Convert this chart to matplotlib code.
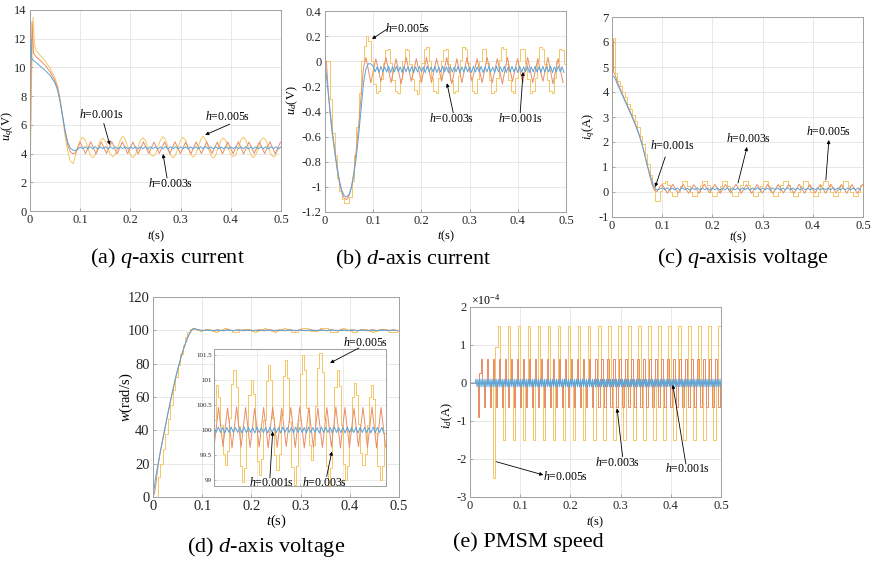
import numpy as np
import matplotlib.pyplot as plt
from matplotlib.ticker import FuncFormatter

plt.rcParams['font.family'] = ['Liberation Serif', 'DejaVu Serif']
plt.rcParams['mathtext.fontset'] = 'custom'
plt.rcParams['mathtext.rm'] = 'Liberation Serif'
plt.rcParams['mathtext.it'] = 'Liberation Serif:italic'
plt.rcParams['axes.unicode_minus'] = False

# colours for h = 0.001s, 0.003s, 0.005s
C1 = '#58a5da'
C3 = '#e88d68'
C5 = '#f4c765'
LW = 0.7

# ---------------- (a) q-axis current : u_q ----------------
a_t1 = [0.0, 0.0015, 0.003, 0.006, 0.012, 0.02, 0.03, 0.04, 0.05, 0.055, 0.06, 0.065, 0.07, 0.075, 0.08, 0.085, 0.09, 0.095]
a_v1 = [2.6, 12.0, 10.7, 10.5, 10.35, 10.1, 9.8, 9.45, 8.9, 8.4, 7.6, 6.6, 5.6, 4.8, 4.4, 4.25, 4.2, 4.3]
a_s1 = [4.45, 4.34, 4.48, 4.33, 4.47, 4.34, 4.48, 4.32, 4.47, 4.34,
        4.48, 4.33, 4.47, 4.34, 4.48, 4.33, 4.47, 4.34, 4.48, 4.32,
        4.47, 4.34, 4.48, 4.33, 4.47, 4.34, 4.48, 4.33, 4.47, 4.34,
        4.48, 4.32, 4.47, 4.34, 4.48, 4.33, 4.47, 4.34, 4.48, 4.33,
        4.47, 4.34, 4.48, 4.32, 4.47, 4.34, 4.48, 4.33, 4.47, 4.34,
        4.48, 4.33, 4.47, 4.34, 4.48, 4.32, 4.47, 4.34, 4.48, 4.33,
        4.47, 4.34, 4.48, 4.33, 4.47, 4.34, 4.48, 4.32, 4.47, 4.34,
        4.48, 4.33, 4.47, 4.34, 4.48, 4.33, 4.47, 4.34, 4.48, 4.32, 4.46]
a_t3 = [0.0, 0.002, 0.004, 0.007, 0.012, 0.02, 0.03, 0.04, 0.05, 0.055, 0.06, 0.065, 0.07, 0.075, 0.08, 0.085, 0.09]
a_v3 = [1.8, 9.0, 13.2, 11.0, 10.75, 10.5, 10.15, 9.7, 9.05, 8.55, 7.7, 6.6, 5.5, 4.6, 4.15, 4.0, 4.02]
a_s3 = [4.80, 4.00, 4.82, 3.98, 4.80, 4.01, 4.83, 3.99, 4.81, 4.00,
        4.80, 3.98, 4.82, 4.00, 4.80, 4.01, 4.81, 3.99, 4.82, 4.00,
        4.80, 3.98, 4.81, 4.00, 4.82, 4.01, 4.80, 3.99, 4.81, 4.00,
        4.82, 3.98, 4.80, 4.01, 4.81, 4.00, 4.82, 3.99, 4.80]
a_t5 = [0.0, 0.003, 0.006, 0.009, 0.013, 0.02, 0.03, 0.04, 0.05, 0.055, 0.06, 0.065, 0.07, 0.075, 0.08, 0.086, 0.095]
a_v5 = [1.5, 9.0, 13.5, 11.5, 11.15, 10.85, 10.45, 9.95, 9.25, 8.7, 7.8, 6.5, 5.2, 4.2, 3.5, 3.3, 4.4]
a_s5 = [4.93, 5.14, 4.93, 4.42, 3.91, 3.70, 3.91, 4.42, 4.90, 5.08,
        4.88, 4.40, 3.95, 3.78, 3.95, 4.45, 4.97, 5.20, 4.98, 4.44,
        3.92, 3.72, 3.92, 4.43, 4.92, 5.10, 4.91, 4.42, 3.94, 3.80,
        3.96, 4.46, 4.96, 5.18, 4.96, 4.43, 3.90, 3.70, 3.90, 4.42,
        4.92, 5.12, 4.92, 4.44, 3.95, 3.75, 3.95, 4.45, 4.97, 5.20,
        4.97, 4.43, 3.89, 3.68, 3.89, 4.42, 4.90, 5.08, 4.89, 4.41,
        3.93, 3.78, 3.94, 4.43, 4.93, 5.15, 4.93, 4.42, 3.92, 3.72,
        3.93, 4.44, 4.95, 5.10, 4.94, 4.43, 3.93, 3.76, 3.93, 4.44]

# ---------------- (b) d-axis current : u_d ----------------
b_t1 = [0.0, 0.003, 0.008, 0.015, 0.02, 0.025, 0.03, 0.035, 0.04, 0.045, 0.05, 0.055, 0.06, 0.065, 0.07, 0.075, 0.08, 0.085, 0.09, 0.095]
b_v1 = [0.0, -0.12, -0.3, -0.55, -0.7, -0.84, -0.95, -1.03, -1.07, -1.08, -1.06, -1.0, -0.9, -0.76, -0.58, -0.38, -0.17, -0.06, -0.02, -0.02]
b_s1 = [-0.04, -0.085, -0.045, -0.09, -0.04, -0.085, -0.045, -0.085, -0.04, -0.09,
        -0.045, -0.085, -0.04, -0.085, -0.045, -0.09, -0.04, -0.085, -0.045, -0.085,
        -0.04, -0.09, -0.045, -0.085, -0.04, -0.085, -0.045, -0.09, -0.04, -0.085,
        -0.045, -0.085, -0.04, -0.09, -0.045, -0.085, -0.04, -0.085, -0.045, -0.09,
        -0.04, -0.085, -0.045, -0.085, -0.04, -0.09, -0.045, -0.085, -0.04, -0.085,
        -0.045, -0.09, -0.04, -0.085, -0.045, -0.085, -0.04, -0.09, -0.045, -0.085,
        -0.04, -0.085, -0.045, -0.09, -0.04, -0.085, -0.045, -0.085, -0.04, -0.09,
        -0.045, -0.085, -0.04, -0.085, -0.045, -0.09, -0.04, -0.085, -0.045, -0.085,
        -0.04, -0.09, -0.045, -0.085, -0.04, -0.085, -0.045, -0.09, -0.04, -0.085,
        -0.045, -0.085, -0.04, -0.09, -0.045, -0.085, -0.04, -0.085, -0.045, -0.09]
b_t3 = [0.0, 0.003, 0.006, 0.01, 0.015, 0.02, 0.025, 0.03, 0.035, 0.04, 0.045, 0.05, 0.055, 0.06, 0.065, 0.07, 0.075, 0.08, 0.085]
b_v3 = [0.0, 0.0, -0.2, -0.4, -0.58, -0.72, -0.86, -0.97, -1.05, -1.09, -1.1, -1.07, -1.0, -0.88, -0.7, -0.5, -0.27, -0.05, 0.03]
b_s3 = [-0.17, 0.02, -0.16, 0.03, -0.17, 0.02, -0.18, 0.03, -0.16, 0.02,
        -0.17, 0.03, -0.17, 0.02, -0.16, 0.03, -0.18, 0.02, -0.17, 0.03,
        -0.16, 0.02, -0.17, 0.03, -0.17, 0.02, -0.18, 0.03, -0.16, 0.02,
        -0.17, 0.03, -0.17, 0.02, -0.16, 0.03, -0.18, 0.02, -0.17]
# h=0.005s is a zero-order hold, one value per sample
b_k5 = [0.0, 0.0, -0.3, -0.57, -0.75, -0.93, -1.03, -1.1, -1.13, -1.13,
        -1.08, -0.95, -0.75, -0.52, -0.25, 0.0, 0.12, 0.2, 0.16, 0.0,
        -0.18, -0.25,
        -0.24, -0.14, -0.01, 0.09, 0.10, -0.01, -0.15, -0.24,
        -0.25, -0.14, 0.00, 0.10, 0.09, -0.02, -0.14, -0.23,
        -0.26, -0.15, -0.01, 0.10, 0.11, 0.00, -0.13, -0.24,
        -0.25, -0.13, 0.00, 0.09, 0.10, -0.02, -0.15, -0.25,
        -0.24, -0.12, 0.01, 0.11, 0.10, -0.01, -0.14, -0.24,
        -0.25, -0.14, 0.00, 0.10, 0.10, -0.01, -0.15, -0.25,
        -0.24, -0.13, 0.01, 0.11, 0.10, -0.02, -0.15, -0.24,
        -0.25, -0.13, 0.00, 0.10, 0.10, -0.01, -0.14, -0.25,
        -0.24, -0.13, 0.01, 0.11, 0.10, -0.02, -0.15, -0.24,
        -0.25, -0.13, 0.00, 0.10, 0.09, -0.02]

# ---------------- (c) q-axis voltage : i_q ----------------
c_t1 = [0.0, 0.0, 0.001, 0.001, 0.005, 0.01, 0.02, 0.03, 0.04, 0.05, 0.055, 0.06, 0.065, 0.07, 0.075, 0.08, 0.085, 0.09, 0.095]
c_v1 = [0.0, 6.05, 6.05, 4.65, 4.6, 4.35, 3.9, 3.45, 3.0, 2.5, 2.22, 1.9, 1.5, 1.1, 0.75, 0.42, 0.15, 0.08, 0.12]
c_s1 = [0.16, 0.09, 0.17, 0.08, 0.16, 0.09, 0.16, 0.08, 0.17, 0.09,
        0.16, 0.08, 0.16, 0.09, 0.17, 0.08, 0.16, 0.09, 0.16, 0.08,
        0.17, 0.09, 0.16, 0.08, 0.16, 0.09, 0.17, 0.08, 0.16, 0.09,
        0.16, 0.08, 0.17, 0.09, 0.16, 0.08, 0.16, 0.09, 0.17, 0.08,
        0.16, 0.09, 0.16, 0.08, 0.17, 0.09, 0.16, 0.08, 0.16, 0.09,
        0.17, 0.08, 0.16, 0.09, 0.16, 0.08, 0.17, 0.09, 0.16, 0.08,
        0.16, 0.09, 0.17, 0.08, 0.16, 0.09, 0.16, 0.08, 0.17, 0.09,
        0.16, 0.08, 0.16, 0.09, 0.17, 0.08, 0.16, 0.09, 0.16, 0.08]
c_t3 = [0.0, 0.0, 0.003, 0.003, 0.006, 0.01, 0.02, 0.03, 0.04, 0.05, 0.055, 0.06, 0.065, 0.07, 0.075, 0.08, 0.085, 0.09, 0.095]
c_v3 = [0.0, 6.1, 6.1, 4.8, 4.7, 4.45, 3.95, 3.5, 3.05, 2.55, 2.25, 1.9, 1.5, 1.08, 0.65, 0.28, 0.05, 0.02, 0.2]
c_s3 = [0.30, -0.05, 0.31, -0.04, 0.30, -0.05, 0.29, -0.05, 0.31, -0.04,
        0.30, -0.05, 0.30, -0.04, 0.31, -0.05, 0.29, -0.05, 0.30, -0.04,
        0.31, -0.05, 0.30, -0.04, 0.30, -0.05, 0.31, -0.05, 0.29, -0.04,
        0.30, -0.05, 0.31, -0.04, 0.30, -0.05, 0.30, -0.05, 0.31]
c_k5 = [6.15, 4.75, 4.45, 4.25, 4.0, 3.78, 3.52, 3.3, 3.08, 2.82,
        2.58, 2.25, 1.92, 1.52, 1.1, 0.68, 0.22, -0.38, -0.35, 0.05,
        0.35, 0.45,
        0.26, 0.00, -0.17, -0.18, 0.01, 0.25, 0.43, 0.44,
        0.25, 0.01, -0.16, -0.17, 0.00, 0.26, 0.44, 0.43,
        0.26, 0.00, -0.18, -0.17, 0.01, 0.25, 0.42, 0.44,
        0.25, 0.00, -0.17, -0.18, 0.00, 0.26, 0.43, 0.43,
        0.26, 0.01, -0.16, -0.17, 0.01, 0.25, 0.44, 0.44,
        0.25, 0.00, -0.17, -0.18, 0.00, 0.26, 0.43, 0.42,
        0.26, 0.01, -0.17, -0.17, 0.01, 0.25, 0.44, 0.43,
        0.25, 0.00, -0.18, -0.17, 0.00, 0.26, 0.43, 0.44,
        0.26, 0.00, -0.17, -0.18, 0.01, 0.25, 0.43, 0.43,
        0.25, 0.00, -0.17, -0.17, 0.00, 0.26]

# ---------------- (d) speed : w ----------------
d_t1 = [0.0, 0.005, 0.01, 0.015, 0.02, 0.025, 0.03, 0.035, 0.04, 0.045, 0.05, 0.055, 0.06, 0.065, 0.07, 0.075, 0.08, 0.085, 0.09, 0.095]
d_v1 = [0.0, 11, 19.5, 27.5, 35, 42.5, 50, 57, 64, 70.5, 76.5, 82, 87, 91.5, 95.5, 98.6, 100.6, 100.9, 100.5, 100.15]
d_s1 = [100.05, 99.95, 100.06, 99.95, 100.05, 99.94, 100.05, 99.95, 100.06, 99.95,
        100.05, 99.95, 100.05, 99.94, 100.06, 99.95, 100.05, 99.95, 100.05, 99.94,
        100.06, 99.95, 100.05, 99.95, 100.05, 99.94, 100.06, 99.95, 100.05, 99.95,
        100.05, 99.94, 100.06, 99.95, 100.05, 99.95, 100.05, 99.94, 100.06, 99.95,
        100.05, 99.95, 100.05, 99.94, 100.06, 99.95, 100.05, 99.95, 100.05, 99.94,
        100.06, 99.95, 100.05, 99.95, 100.05, 99.94, 100.06, 99.95, 100.05, 99.95,
        100.05, 99.94, 100.06, 99.95, 100.05, 99.95, 100.05, 99.94, 100.06, 99.95,
        100.05, 99.95, 100.05, 99.94, 100.06, 99.95, 100.05, 99.95, 100.05, 99.94]
d_t3 = [0.0, 0.003, 0.006, 0.01, 0.015, 0.02, 0.025, 0.03, 0.035, 0.04, 0.045, 0.05, 0.055, 0.06, 0.065, 0.07, 0.075, 0.08, 0.085, 0.09]
d_v3 = [0.0, 2, 8, 18, 27, 34.5, 42, 49.5, 56.5, 63.5, 70, 76, 81.5, 86.7, 91.2, 95.2, 98.5, 100.7, 101.0, 100.4]
d_s3 = [99.65, 100.45, 99.67, 100.44, 99.64, 100.46, 99.66, 100.45, 99.65, 100.43,
        99.66, 100.45, 99.64, 100.46, 99.65, 100.44, 99.67, 100.45, 99.65, 100.46,
        99.64, 100.45, 99.66, 100.44, 99.65, 100.45, 99.66, 100.46, 99.64, 100.45,
        99.65, 100.44, 99.67, 100.45, 99.65, 100.46, 99.64, 100.45, 99.66]
d_k5 = [0.0, 0.0, 12, 20, 29, 38, 47, 55, 64, 72,
        79, 86, 91.5, 96, 99, 100.7, 101.3, 101.0, 100.3, 99.8,
        100.2,
        100.9, 100.67, 100.1, 99.53, 99.3, 99.58, 100.25, 100.92,
        101.2, 100.87, 100.08, 99.28, 98.95, 99.25, 99.98, 100.7,
        101.0, 100.72, 100.05, 99.38, 99.1, 99.42, 100.2, 100.98,
        101.3, 101.0, 100.25, 99.5, 99.2, 99.52, 100.3, 101.08,
        101.4, 101.04, 100.15, 99.26, 98.9, 99.28, 100.2, 101.12,
        101.5, 101.2, 100.45, 99.7, 99.4, 99.71, 100.48, 101.24,
        101.55, 101.17, 100.23, 99.28, 98.9, 99.23, 100.05, 100.87,
        101.2, 100.88, 100.1, 99.32, 99.0, 99.28, 99.98, 100.67,
        100.95, 100.71, 100.13, 99.54, 99.3, 99.53, 100.1, 100.67,
        100.9, 100.62, 99.95, 99.28, 99.0, 99.28, 99.95]

# ---------------- (e) i_d (x 1e-4) ----------------
e_t1 = [0.0, 0.01]
e_v1 = [0.0, 0.0]
e_s1 = [
    0.1, -0.1, 0.1, -0.1, 0.1, -0.1, 0.1, -0.1, 0.1, -0.1, 0.1, -0.1, 0.1, -0.1, 0.1, -0.1, 0.1, -0.1, 0.1, -0.1,
    0.1, -0.1, 0.1, -0.1, 0.1, -0.1, 0.1, -0.1, 0.1, -0.1, 0.1, -0.1, 0.1, -0.1, 0.1, -0.1, 0.1, -0.1, 0.1, -0.1,
    0.1, -0.1, 0.1, -0.1, 0.1, -0.1, 0.1, -0.1, 0.1, -0.1, 0.1, -0.1, 0.1, -0.1, 0.1, -0.1, 0.1, -0.1, 0.1, -0.1,
    0.1, -0.1, 0.1, -0.1, 0.1, -0.1, 0.1, -0.1, 0.1, -0.1, 0.1, -0.1, 0.1, -0.1, 0.1, -0.1, 0.1, -0.1, 0.1, -0.1,
    0.1, -0.1, 0.1, -0.1, 0.1, -0.1, 0.1, -0.1, 0.1, -0.1, 0.1, -0.1, 0.1, -0.1, 0.1, -0.1, 0.1, -0.1, 0.1, -0.1,
    0.1, -0.1, 0.1, -0.1, 0.1, -0.1, 0.1, -0.1, 0.1, -0.1, 0.1, -0.1, 0.1, -0.1, 0.1, -0.1, 0.1, -0.1, 0.1, -0.1,
    0.1, -0.1, 0.1, -0.1, 0.1, -0.1, 0.1, -0.1, 0.1, -0.1, 0.1, -0.1, 0.1, -0.1, 0.1, -0.1, 0.1, -0.1, 0.1, -0.1,
    0.1, -0.1, 0.1, -0.1, 0.1, -0.1, 0.1, -0.1, 0.1, -0.1, 0.1, -0.1, 0.1, -0.1, 0.1, -0.1, 0.1, -0.1, 0.1, -0.1,
    0.1, -0.1, 0.1, -0.1, 0.1, -0.1, 0.1, -0.1, 0.1, -0.1, 0.1, -0.1, 0.1, -0.1, 0.1, -0.1, 0.1, -0.1, 0.1, -0.1,
    0.1, -0.1, 0.1, -0.1, 0.1, -0.1, 0.1, -0.1, 0.1, -0.1, 0.1, -0.1, 0.1, -0.1, 0.1, -0.1, 0.1, -0.1, 0.1, -0.1,
    0.1, -0.1, 0.1, -0.1, 0.1, -0.1, 0.1, -0.1, 0.1, -0.1, 0.1, -0.1, 0.1, -0.1, 0.1, -0.1, 0.1, -0.1, 0.1, -0.1,
    0.1, -0.1, 0.1, -0.1, 0.1, -0.1, 0.1, -0.1, 0.1, -0.1, 0.1, -0.1, 0.1, -0.1, 0.1, -0.1, 0.1, -0.1, 0.1, -0.1,
    0.1, -0.1, 0.1, -0.1, 0.1]
e_k3 = [0.0, 0.0, 0.0, 0.0, 0.0, -0.9, 0.25, 0.62, 0.0, -0.62,
        0.0, 0.62, 0.0, -0.62, 0.0, 0.62, 0.0, -0.62, 0.0, 0.62,
        0.0, -0.62, 0.0, 0.62, 0.0, -0.62, 0.0, 0.62, 0.0, -0.62,
        0.0, 0.62, 0.0, -0.62, 0.0, 0.62, 0.0, -0.62, 0.0, 0.62,
        0.0, -0.62, 0.0, 0.62, 0.0, -0.62, 0.0, 0.62, 0.0, -0.62,
        0.0, 0.62, 0.0, -0.62, 0.0, 0.62, 0.0, -0.62, 0.0, 0.62,
        0.0, -0.62, 0.0, 0.62, 0.0, -0.62, 0.0, 0.62, 0.0, -0.62,
        0.0, 0.62, 0.0, -0.62, 0.0, 0.62, 0.0, -0.62, 0.0, 0.62,
        0.0, -0.62, 0.0, 0.62, 0.0, -0.62, 0.0, 0.62, 0.0, -0.62,
        0.0, 0.62, 0.0, -0.62, 0.0, 0.62, 0.0, -0.62, 0.0, 0.62,
        0.0, -0.62, 0.0, 0.62, 0.0, -0.62, 0.0, 0.62, 0.0, -0.62,
        0.0, 0.62, 0.0, -0.62, 0.0, 0.62, 0.0, -0.62, 0.0, 0.62,
        0.0, -0.62, 0.0, 0.62, 0.0, -0.62, 0.0, 0.62, 0.0, -0.62,
        0.0, 0.62, 0.0, -0.62, 0.0, 0.62, 0.0, -0.62, 0.0, 0.62,
        0.0, -0.62, 0.0, 0.62, 0.0, -0.62, 0.0, 0.62, 0.0, -0.62,
        0.0, 0.62, 0.0, -0.62, 0.0, 0.62, 0.0, -0.62, 0.0, 0.62,
        0.0, -0.62, 0.0, 0.62, 0.0, -0.62, 0.0]
e_k5 = [0.0, 0.0, 0.0, 0.0, 0.0, 0.0, 0.0, 0.0, 0.0, -2.5,
        0.95, 1.5, 0.0, -1.5, 0.0, 1.5, 0.0, -1.5, 0.0, 1.5,
        0.0, -1.5, 0.0, 1.5, 0.0, -1.5, 0.0, 1.5, 0.0, -1.5,
        0.0, 1.5, 0.0, -1.5, 0.0, 1.5, 0.0, -1.5, 0.0, 1.5,
        0.0, -1.5, 0.0, 1.5, 0.0, -1.5, 0.0, 1.5, 0.0, -1.5,
        0.0, 1.5, 0.0, -1.5, 0.0, 1.5, 0.0, -1.5, 0.0, 1.5,
        0.0, -1.5, 0.0, 1.5, 0.0, -1.5, 0.0, 1.5, 0.0, -1.5,
        0.0, 1.5, 0.0, -1.5, 0.0, 1.5, 0.0, -1.5, 0.0, 1.5,
        0.0, -1.5, 0.0, 1.5, 0.0, -1.5, 0.0, 1.5, 0.0, -1.5,
        0.0, 1.5, 0.0, -1.5, 0.0, 1.5, 0.0, -1.5, 0.0, 1.5]


def join(t0, v0, start, step, vals):
    # transient knots followed by the steady-state extrema
    ts = start + step * np.arange(len(vals))
    return np.concatenate([t0, ts]), np.concatenate([v0, vals])


def held(vals, h):
    # zero-order hold samples, last one held up to 0.5 s
    t = h * np.arange(len(vals) + 1)
    return t, np.append(vals, vals[-1])


def fmt(v, pos):
    if abs(v) < 1e-9:
        v = 0
    return '%g' % v


def style(ax, ylim, yticks, ylabel, ylab_xy, xlab_y, fs=9):
    ax.set_xlim(0, 0.5)
    ax.set_xticks([0, 0.1, 0.2, 0.3, 0.4, 0.5])
    ax.set_ylim(*ylim)
    ax.set_yticks(yticks)
    ax.xaxis.set_major_formatter(FuncFormatter(fmt))
    ax.yaxis.set_major_formatter(FuncFormatter(fmt))
    ax.grid(True, color='#e4e4e4', linewidth=0.6)
    ax.set_axisbelow(True)
    ax.tick_params(direction='in', length=2.5, width=0.5, color='#888888',
                   labelsize=fs, labelcolor='#262626', pad=2.5)
    for s in ax.spines.values():
        s.set_color('#a0a0a0')
        s.set_linewidth(0.7)
    ax.set_xlabel('$t$(s)', fontsize=fs)
    ax.set_ylabel(ylabel, fontsize=fs)
    ax.xaxis.set_label_coords(0.5, xlab_y)
    ax.yaxis.set_label_coords(*ylab_xy)


def note(ax, text, txy, tail, head):
    ax.text(txy[0], txy[1], text, fontsize=8.5, ha='center', va='center', clip_on=False)
    ax.annotate('', xy=head, xytext=tail, annotation_clip=False,
                arrowprops=dict(arrowstyle='-|>', color='k', lw=0.6,
                                mutation_scale=5, shrinkA=0, shrinkB=0))


fig = plt.figure(figsize=(8.71, 5.61), dpi=100)

# (a)
ax = fig.add_axes([30 / 871, 1 - 211 / 561, 251 / 871, 201 / 561])
t, v = join(a_t5, a_v5, 0.1, 0.005, a_s5)
ax.plot(t, v, color=C5, lw=LW)
t, v = join(a_t3, a_v3, 0.1, 0.0105, a_s3)
ax.plot(t, v, color=C3, lw=LW)
t, v = join(a_t1, a_v1, 0.1, 0.005, a_s1)
ax.plot(t, v, color=C1, lw=LW)
style(ax, (0, 14), range(0, 15, 2), '$u_q$(V)', (-0.056, 0.42), -0.085)
note(ax, '$h$=0.001s', (0.142, 6.75), (0.147, 6.1), (0.159, 4.6))
note(ax, '$h$=0.005s', (0.393, 6.55), (0.398, 6.05), (0.349, 5.3))
note(ax, '$h$=0.003s', (0.28, 1.9), (0.273, 2.3), (0.265, 3.97))

# (b)
ax = fig.add_axes([325 / 871, 1 - 212 / 561, 241 / 871, 201 / 561])
t, v = held(b_k5, 0.005)
ax.step(t, v, where='post', color=C5, lw=LW)
t, v = join(b_t3, b_v3, 0.095, 0.0105, b_s3)
ax.plot(t, v, color=C3, lw=LW)
t, v = join(b_t1, b_v1, 0.1, 0.004, b_s1)
ax.plot(t, v, color=C1, lw=LW)
style(ax, (-1.2, 0.4), np.arange(-1.2, 0.41, 0.2).round(1), '$u_d$(V)', (-0.104, 0.557), -0.08)
note(ax, '$h$=0.005s', (0.172, 0.26), (0.129, 0.256), (0.0975, 0.177))
note(ax, '$h$=0.003s', (0.262, -0.455), (0.266, -0.41), (0.253, -0.175))
note(ax, '$h$=0.001s', (0.405, -0.455), (0.405, -0.41), (0.411, -0.085))

# (c)
ax = fig.add_axes([612 / 871, 1 - 217 / 561, 251 / 871, 200 / 561])
t, v = held(c_k5, 0.005)
ax.step(np.insert(t, 0, 0.0), np.insert(v, 0, 0.0), where='post', color=C5, lw=LW)
t, v = join(c_t3, c_v3, 0.1, 0.0105, c_s3)
ax.plot(t, v, color=C3, lw=LW)
t, v = join(c_t1, c_v1, 0.1, 0.005, c_s1)
ax.plot(t, v, color=C1, lw=LW)
style(ax, (-1, 7), range(-1, 8), '$i_q$(A)', (-0.06, 0.45), -0.065)
note(ax, '$h$=0.001s', (0.12, 1.84), (0.106, 1.4), (0.086, 0.2))
note(ax, '$h$=0.003s', (0.272, 2.13), (0.251, 0.36), (0.269, 1.8))
note(ax, '$h$=0.005s', (0.431, 2.4), (0.426, 0.48), (0.432, 2.08))

# (d) with zoomed inset
ax = fig.add_axes([153 / 871, 1 - 497 / 561, 246 / 871, 200 / 561])
ins = fig.add_axes([214 / 871, 1 - 486 / 561, 172 / 871, 137 / 561])
for a in (ax, ins):
    t, v = held(d_k5, 0.005)
    a.step(t, v, where='post', color=C5, lw=LW)
    t, v = join(d_t3, d_v3, 0.1, 0.0105, d_s3)
    a.plot(t, v, color=C3, lw=LW)
    t, v = join(d_t1, d_v1, 0.1, 0.005, d_s1)
    a.plot(t, v, color=C1, lw=LW)
style(ax, (0, 120), range(0, 121, 20), '$w$(rad/s)', (-0.073, 0.5), -0.08, fs=10.5)
ins.set_xlim(0.1, 0.5)
ins.set_ylim(98.88, 101.62)
ins.set_yticks([99, 99.5, 100, 100.5, 101, 101.5])
ins.yaxis.set_major_formatter(FuncFormatter(fmt))
ins.set_xticks([0.2, 0.3, 0.4])
ins.set_xticklabels([])
ins.grid(True, color='#e4e4e4', linewidth=0.5)
ins.tick_params(direction='in', length=1.5, width=0.4, color='#888888',
                labelsize=5, labelcolor='#262626', pad=1.5)
for s in ins.spines.values():
    s.set_color('#a0a0a0')
    s.set_linewidth(0.7)
note(ins, '$h$=0.005s', (0.453, 101.76), (0.437, 101.64), (0.37, 101.34))
note(ins, '$h$=0.001s', (0.233, 98.95), (0.23, 99.04), (0.2365, 99.97))
note(ins, '$h$=0.003s', (0.356, 98.95), (0.362, 99.07), (0.374, 99.57))

# (e)
ax = fig.add_axes([470 / 871, 1 - 497 / 561, 251 / 871, 190 / 561])
t, v = held(e_k5, 0.005)
ax.step(t, v, where='post', color=C5, lw=LW)
t, v = held(e_k3, 0.003)
ax.step(t, v, where='post', color=C3, lw=LW)
t, v = join(e_t1, e_v1, 0.012, 0.002, e_s1)
ax.plot(t, v, color=C1, lw=LW)
style(ax, (-3, 2), range(-3, 3), '$i_d$(A)', (-0.058, 0.43), -0.09)
ax.text(0.005, 1.015, r'$\times10^{-4}$', transform=ax.transAxes, fontsize=8.5)
note(ax, '$h$=0.005s', (0.191, -2.47), (0.052, -2.07), (0.146, -2.42))
note(ax, '$h$=0.003s', (0.294, -2.08), (0.304, -1.94), (0.293, -0.67))
note(ax, '$h$=0.001s', (0.433, -2.25), (0.43, -2.13), (0.404, -0.05))

# captions
cap = dict(fontsize=16, ha='center', va='center')
fig.text(167 / 871, 1 - 258 / 561, '(a) $q$-axis current', **cap)
fig.text(413 / 871, 1 - 259 / 561, '(b) $d$-axis current', **cap)
fig.text(743 / 871, 1 - 258 / 561, '(c) $q$-axisis voltage', **cap)
fig.text(266 / 871, 1 - 547 / 561, '(d) $d$-axis voltage', **cap)
fig.text(528 / 871, 1 - 542 / 561, '(e) PMSM speed', **cap)

fig.savefig('out.png', dpi=100)
